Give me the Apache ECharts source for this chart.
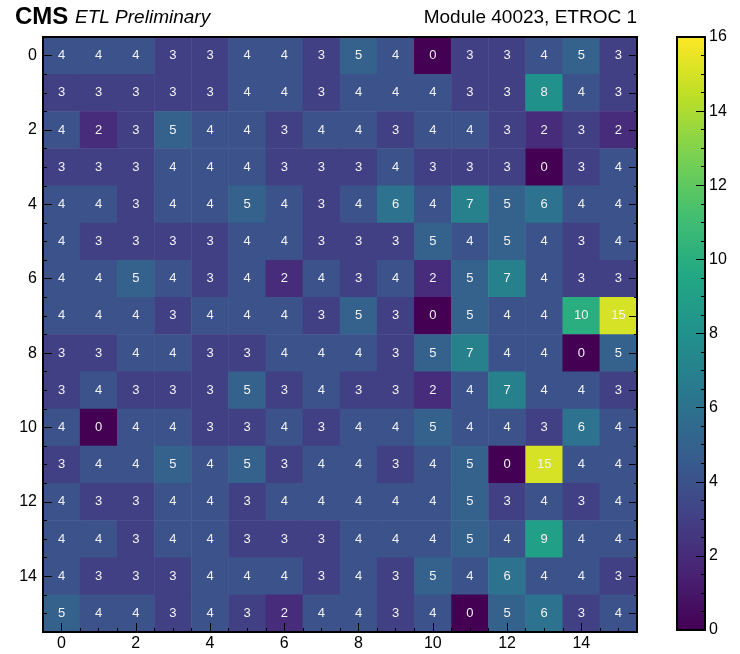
<!DOCTYPE html>
<html>
<head>
<meta charset="utf-8">
<script src="https://cdn.jsdelivr.net/npm/echarts@6/dist/echarts.min.js"></script>
<style>
html,body{margin:0;padding:0;background:#fff;}
#chart{width:740px;height:654px;}
</style>
</head>
<body>
<div id="chart"></div>
<script>
// Column indices (x) and row indices (y)
const cols = [0,1,2,3,4,5,6,7,8,9,10,11,12,13,14,15];
const rows = [0,1,2,3,4,5,6,7,8,9,10,11,12,13,14,15];
// Values per row (row 0 at top)
const row0  = [4,4,4,3,3,4,4,3,5,4,0,3,3,4,5,3];
const row1  = [3,3,3,3,3,4,4,3,4,4,4,3,3,8,4,3];
const row2  = [4,2,3,5,4,4,3,4,4,3,4,4,3,2,3,2];
const row3  = [3,3,3,4,4,4,3,3,3,4,3,3,3,0,3,4];
const row4  = [4,4,3,4,4,5,4,3,4,6,4,7,5,6,4,4];
const row5  = [4,3,3,3,3,4,4,3,3,3,5,4,5,4,3,4];
const row6  = [4,4,5,4,3,4,2,4,3,4,2,5,7,4,3,3];
const row7  = [4,4,4,3,4,4,4,3,5,3,0,5,4,4,10,15];
const row8  = [3,3,4,4,3,3,4,4,4,3,5,7,4,4,0,5];
const row9  = [3,4,3,3,3,5,3,4,3,3,2,4,7,4,4,3];
const row10 = [4,0,4,4,3,3,4,3,4,4,5,4,4,3,6,4];
const row11 = [3,4,4,5,4,5,3,4,4,3,4,5,0,15,4,4];
const row12 = [4,3,3,4,4,3,4,4,4,4,4,5,3,4,3,4];
const row13 = [4,4,3,4,4,3,3,3,4,4,4,5,4,9,4,4];
const row14 = [4,3,3,3,4,4,4,3,4,3,5,4,6,4,4,3];
const row15 = [5,4,4,3,4,3,2,4,4,3,4,0,5,6,3,4];
const colorMin = 0, colorMax = 16;

const allRows = [row0,row1,row2,row3,row4,row5,row6,row7,row8,row9,row10,row11,row12,row13,row14,row15];
const data = [];
allRows.forEach((r, y) => r.forEach((v, x) => data.push([x, y, v])));

const viridis = ['#440154','#482475','#414487','#355f8d','#2a788e','#21918c','#22a884','#44bf70','#7ad151','#bddf26','#fde725'];
const gradStops = viridis.map((c, i) => ({offset: i / (viridis.length - 1), color: c}));

const FONT = '"Liberation Sans", Arial, Helvetica, sans-serif';
const black = '#000';

function catAxis(pos, gridIndex, opts) {
  return Object.assign({
    type: 'category', gridIndex, position: pos, z: 10, data: pos === 'left' || pos === 'right' ? rows : cols,
    axisLine: {show: false}, splitLine: {show: false}, splitArea: {show: false}
  }, opts);
}
function valAxis(pos, gridIndex, len) {
  return {
    type: 'value', gridIndex, position: pos, min: 0, max: 16, interval: 0.5, z: 10,
    axisLine: {show: false}, splitLine: {show: false},
    axisLabel: {show: false},
    axisTick: {show: true, inside: true, length: len, lineStyle: {color: black, width: 1}}
  };
}

const chart = echarts.init(document.getElementById('chart'));
chart.setOption({
  backgroundColor: '#fff',
  animation: false,
  textStyle: {fontFamily: FONT},
  graphic: [
    {type: 'text', left: 15, top: 5, style: {text: 'CMS', font: 'bold 24px ' + FONT, fill: black}},
    {type: 'text', left: 75, top: 8, style: {text: 'ETL Preliminary', font: 'italic 19px ' + FONT, fill: black}},
    {type: 'text', right: 103, top: 8, style: {text: 'Module 40023, ETROC 1', font: '19px ' + FONT, fill: black}}
  ],
  grid: [
    {left: 43, top: 37, width: 594, height: 595, show: true, borderColor: black, borderWidth: 2, backgroundColor: 'transparent', z: 10},
    {left: 677, top: 37, width: 28, height: 593, show: true, borderColor: black, borderWidth: 2, backgroundColor: 'transparent', z: 10}
  ],
  xAxis: [
    catAxis('bottom', 0, {
      axisTick: {show: true, alignWithLabel: true, interval: 1, inside: true, length: 9, lineStyle: {color: black}},
      axisLabel: {interval: 1, fontSize: 16, color: black, margin: 4, fontFamily: FONT}
    }),
    valAxis('bottom', 0, 4),
    catAxis('top', 0, {axisTick: {show: false}, axisLabel: {show: false}}),
    {type: 'category', gridIndex: 1, data: ['c'], show: false}
  ],
  yAxis: [
    catAxis('left', 0, {
      inverse: true,
      axisTick: {show: true, alignWithLabel: true, interval: 1, inside: true, length: 9, lineStyle: {color: black}},
      axisLabel: {interval: 1, fontSize: 16, color: black, margin: 6, fontFamily: FONT}
    }),
    valAxis('left', 0, 4),
    catAxis('right', 0, {
      inverse: true,
      axisTick: {show: true, alignWithLabel: true, interval: 0, inside: true, length: 8, lineStyle: {color: black}},
      axisLabel: {show: false}
    }),
    valAxis('right', 0, 3),
    {
      type: 'value', gridIndex: 1, position: 'right', min: colorMin, max: colorMax, interval: 2, z: 10,
      axisLine: {show: false}, splitLine: {show: false},
      axisTick: {show: true, inside: true, length: 9, lineStyle: {color: black}},
      minorTick: {show: true, splitNumber: 4, length: 4, lineStyle: {color: black}},
      axisLabel: {fontSize: 16, color: black, margin: 4, fontFamily: FONT}
    }
  ],
  visualMap: {
    show: false, type: 'continuous', min: colorMin, max: colorMax, seriesIndex: 0, dimension: 2,
    inRange: {color: viridis}
  },
  series: [
    {
      type: 'heatmap', xAxisIndex: 0, yAxisIndex: 0, data: data, z: 2,
      label: {show: true, color: '#f2f2f2', fontSize: 13, fontFamily: FONT, formatter: p => String(p.value[2])},
      itemStyle: {borderWidth: 0},
      emphasis: {disabled: true}
    },
    {
      type: 'bar', xAxisIndex: 3, yAxisIndex: 4, data: [colorMax], barWidth: '100%', silent: true, z: 2,
      itemStyle: {color: {type: 'linear', x: 0, y: 1, x2: 0, y2: 0, colorStops: gradStops}}
    }
  ]
});
</script>
</body>
</html>
